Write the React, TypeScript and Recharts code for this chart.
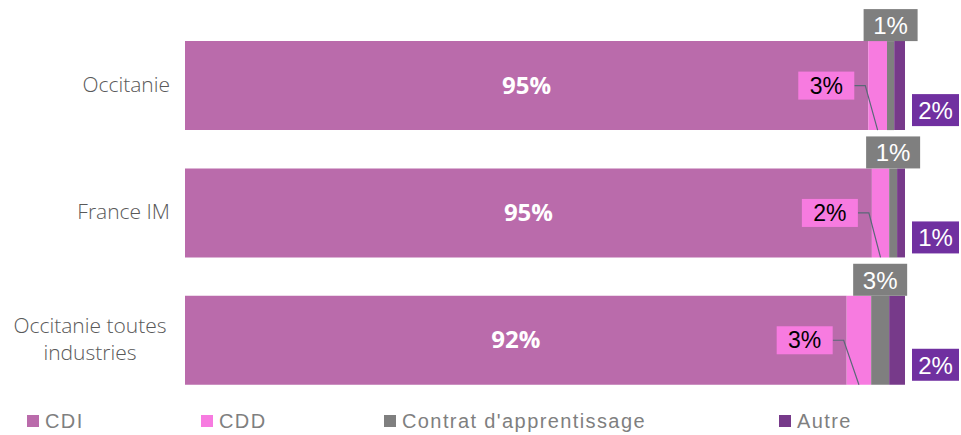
import React from 'react';
import { BarChart, Bar, XAxis, YAxis, Legend, LabelList } from 'recharts';

const categories = ['Occitanie', 'France IM', 'Occitanie toutes industries'];
const cdi = [94.9, 95.4, 91.9];
const cdd = [2.6, 2.4, 3.4];
const apprentissage = [1.0, 1.1, 2.5];
const autre = [1.5, 1.1, 2.2];

const seriesNames = ['CDI', 'CDD', "Contrat d'apprentissage", 'Autre'];

const COLORS = {
  cdi: '#BA6BAB',
  cdd: '#F77BE0',
  app: '#7F7F7F',
  autre: '#773A8A',
  autreLabel: '#7030A0',
};

const data = categories.map((name, i) => ({
  name,
  cdi: cdi[i],
  cdd: cdd[i],
  app: apprentissage[i],
  autre: autre[i],
}));

const pct = (v: any) => `${Math.round(Number(v))}%`;
const boxFont = "'Liberation Sans', Arial, sans-serif";

const CategoryTick = (props: any) => {
  const { x, y, payload } = props;
  const name: string = payload.value;
  const style = { fontFamily: "'Open Sans', sans-serif", fontSize: 21, fontWeight: 300, fill: '#595959' };
  if (name.length > 15) {
    // two lines, centred on each other, right edge at the tick
    const words = name.split(' ');
    const lines = [words.slice(0, 2).join(' '), words.slice(2).join(' ')];
    const cx = x - Math.max(...lines.map((l) => l.length)) * 5;
    return (
      <text x={cx} y={y} textAnchor="middle" style={style}>
        <tspan x={cx} dy={-7}>{lines[0]}</tspan>
        <tspan x={cx} dy={27}>{lines[1]}</tspan>
      </text>
    );
  }
  return (
    <text x={x} y={y} dy={6} textAnchor="end" style={style}>{name}</text>
  );
};

const CdiLabel = (props: any) => {
  const { x, y, width, height, value } = props;
  return (
    <text x={x + width / 2} y={y + height / 2} dy={8} textAnchor="middle"
      style={{ fontFamily: "'Open Sans', sans-serif", fontWeight: 700, fontSize: 24, fill: '#fff' }}>
      {pct(value)}
    </text>
  );
};

const CddLabel = (props: any) => {
  const { x, y, width, height, value } = props;
  const bw = 56, bh = 28;
  const right = x - 14;
  const cy = y + height / 2;
  return (
    <g>
      <path d={`M${right},${cy} H${x - 3} L${x + width / 2},${y + height}`} stroke="#5A6878" strokeWidth={1.2} fill="none" />
      <rect x={right - bw} y={cy - bh / 2} width={bw} height={bh} fill={COLORS.cdd} />
      <text x={right - bw / 2} y={cy} dy={8} textAnchor="middle" style={{ fontFamily: boxFont, fontSize: 23, fill: '#000' }}>
        {pct(value)}
      </text>
    </g>
  );
};

const AppLabel = (props: any) => {
  const { x, y, width, value } = props;
  const bw = 54, bh = 32;
  const cx = x + width / 2;
  return (
    <g>
      <rect x={cx - bw / 2} y={y - bh} width={bw} height={bh} fill={COLORS.app} />
      <text x={cx} y={y - bh / 2} dy={9} textAnchor="middle" style={{ fontFamily: boxFont, fontSize: 24, fill: '#fff' }}>
        {pct(value)}
      </text>
    </g>
  );
};

const AutreLabel = (props: any) => {
  const { x, y, width, height, value } = props;
  const bw = 47, bh = 32;
  const left = x + width + 7;
  const bottom = y + height - 4;
  return (
    <g>
      <rect x={left} y={bottom - bh} width={bw} height={bh} fill={COLORS.autreLabel} />
      <text x={left + bw / 2} y={bottom - bh / 2} dy={9} textAnchor="middle" style={{ fontFamily: boxFont, fontSize: 24, fill: '#fff' }}>
        {pct(value)}
      </text>
    </g>
  );
};

const legendColors = [COLORS.cdi, COLORS.cdd, COLORS.app, COLORS.autre];
const legendLeft = [27, 201, 384, 779];

const renderLegend = () => (
  <div style={{ position: 'relative', height: 31, width: 905 }}>
    {seriesNames.map((name, i) => (
      <div key={name} style={{
        position: 'absolute', left: legendLeft[i], top: 6, height: 22, lineHeight: '22px',
        display: 'flex', alignItems: 'center', whiteSpace: 'nowrap',
        fontFamily: boxFont, fontSize: 20, letterSpacing: 1.4, color: '#7F7F7F',
      }}>
        <span style={{ width: 12, height: 12, background: legendColors[i], marginRight: 6, display: 'inline-block' }} />
        {name}
      </div>
    ))}
  </div>
);

export default function App() {
  return (
    <div style={{ position: 'absolute', left: 0, top: 0, width: 961, height: 435, background: '#fff' }}>
      <BarChart
        width={961}
        height={435}
        data={data}
        layout="vertical"
        margin={{ top: 22, right: 56, left: 0, bottom: 0 }}
        barCategoryGap="15%"
      >
        <XAxis type="number" domain={[0, 100]} hide />
        <YAxis type="category" dataKey="name" width={185} axisLine={false} tickLine={false} tickMargin={9} tick={<CategoryTick />} interval={0} />
        <Legend verticalAlign="bottom" content={renderLegend} />
        <Bar dataKey="cdi" name="CDI" stackId="a" fill={COLORS.cdi} isAnimationActive={false}>
          <LabelList dataKey="cdi" content={<CdiLabel />} />
        </Bar>
        <Bar dataKey="cdd" name="CDD" stackId="a" fill={COLORS.cdd} isAnimationActive={false}>
          <LabelList dataKey="cdd" content={<CddLabel />} />
        </Bar>
        <Bar dataKey="app" name="Contrat d'apprentissage" stackId="a" fill={COLORS.app} isAnimationActive={false}>
          <LabelList dataKey="app" content={<AppLabel />} />
        </Bar>
        <Bar dataKey="autre" name="Autre" stackId="a" fill={COLORS.autre} isAnimationActive={false}>
          <LabelList dataKey="autre" content={<AutreLabel />} />
        </Bar>
      </BarChart>
    </div>
  );
}
